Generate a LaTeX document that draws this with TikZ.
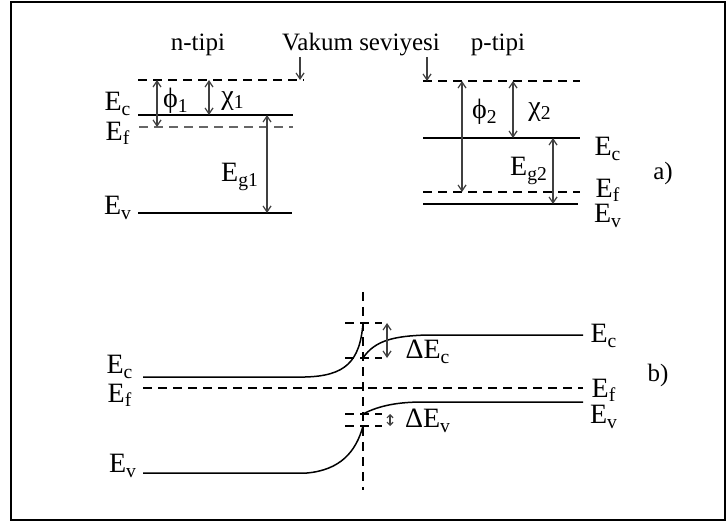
\documentclass[tikz,border=0pt]{standalone}
\usepackage{fontspec}
\setmainfont{Liberation Serif}
\usetikzlibrary{arrows.meta}
\begin{document}
\begin{tikzpicture}[x=0.5pt,y=-0.5pt,
  lvl/.style={line width=0.75pt},
  dlvl/.style={line width=0.6pt, dash pattern=on 4.5pt off 3pt},
  darr/.style={line width=0.6pt, draw=black!75, {Straight Barb[length=3pt,width=4pt]}-{Straight Barb[length=3pt,width=4pt]}},
  sarr/.style={line width=0.6pt, draw=black!75, -{Straight Barb[length=3pt,width=4pt]}},
  tarr/.style={line width=0.6pt, draw=black!75, {Straight Barb[length=1.5pt,width=3pt]}-{Straight Barb[length=1.5pt,width=3pt]}},
  lab/.style={font=\fontsize{12.5}{14}\selectfont, inner sep=0pt},
  elab/.style={font=\fontsize{14}{16}\selectfont, inner sep=0pt},
]
\useasboundingbox (0,0) rectangle (727,523);
\draw[line width=1.2pt] (11,2) rectangle (725,520);

% ---------- part a) : titles ----------
\node[lab] (ntip) at (198,45) {n-tipi};
\node[lab] (vak) at (361,45) {Vakum seviyesi};
\node[lab] (ptip) at (498,45) {p-tipi};

% n-type levels
\coordinate (nvacL) at (138,80);  \coordinate (nvacR) at (304,80);
\coordinate (necL) at (138,115);  \coordinate (necR) at (293,115);
\coordinate (nefL) at (139,127);  \coordinate (nefR) at (293,127);
\coordinate (nevL) at (138,213);  \coordinate (nevR) at (292,213);
\draw[dlvl] (nvacL) -- (nvacR);
\draw[lvl] (necL) -- (necR);
\draw[dlvl, draw=black!60] (nefL) -- (nefR);
\draw[lvl] (nevL) -- (nevR);

% p-type levels
\coordinate (pvacL) at (423,81);  \coordinate (pvacR) at (580,81);
\coordinate (pecL) at (423,138);  \coordinate (pecR) at (580,138);
\coordinate (pefL) at (423,192);  \coordinate (pefR) at (580,192);
\coordinate (pevL) at (423,204);  \coordinate (pevR) at (578,204);
\draw[dlvl] (pvacL) -- (pvacR);
\draw[lvl] (pecL) -- (pecR);
\draw[dlvl] (pefL) -- (pefR);
\draw[lvl] (pevL) -- (pevR);

% vacuum pointers
\coordinate (va1) at (300,57); \coordinate (vb1) at (300,80);
\coordinate (va2) at (427,57); \coordinate (vb2) at (427,81);
\draw[sarr] (va1) -- (vb1);
\draw[sarr] (va2) -- (vb2);

% n-type arrows
\draw[darr] (157,80) -- (157,127);
\draw[darr] (209,80) -- (209,115);
\draw[darr] (267,115) -- (267,213);
\node[elab] (phi1) at (176,101) {ϕ\textsubscript{1}};
\node[elab] (chi1) at (233,101) {χ\textsubscript{1}};
\node[elab] (eg1) at (240,177) {E\textsubscript{g1}};

% p-type arrows
\draw[darr] (462,81) -- (462,192);
\draw[darr] (513,81) -- (513,138);
\draw[darr] (553,138) -- (553,204);
\node[elab] (phi2) at (485,112) {ϕ\textsubscript{2}};
\node[elab] (chi2) at (540,112) {χ\textsubscript{2}};
\node[elab] (eg2) at (529,171) {E\textsubscript{g2}};

% level labels a)
\node[elab] (lnec) at (118,104) {E\textsubscript{c}};
\node[elab] (lnef) at (118,133) {E\textsubscript{f}};
\node[elab] (lnev) at (118,208) {E\textsubscript{v}};
\node[elab] (lpec) at (608,149) {E\textsubscript{c}};
\node[elab] (lpef) at (608,190) {E\textsubscript{f}};
\node[elab] (lpev) at (608,216) {E\textsubscript{v}};
\node[lab] (la) at (663,173) {a)};

% ---------- part b) ----------
\coordinate (jT) at (363,292); \coordinate (jB) at (363,490);
\draw[dlvl] (jT) -- (jB);

% conduction band
\coordinate (cL) at (143,377); \coordinate (cM) at (305,377); \coordinate (cJ1) at (363,323);
\coordinate (cJ2) at (363,358); \coordinate (cN) at (427,335); \coordinate (cR) at (583,335);
\draw[lvl] (cL) -- (cM) .. controls (345,376) and (360,362) .. (cJ1);
\draw[lvl] (cJ2) .. controls (375,340) and (395,336) .. (cN) -- (cR);

% Fermi level
\coordinate (fL) at (143,388); \coordinate (fR) at (583,388);
\draw[dlvl] (fL) -- (fR);

% valence band
\coordinate (vL) at (143,473); \coordinate (vM) at (307,473); \coordinate (vJ1) at (363,426);
\coordinate (vJ2) at (363,414); \coordinate (vN) at (423,402); \coordinate (vR) at (583,402);
\draw[lvl] (vL) -- (vM) .. controls (340,470) and (356,452) .. (vJ1);
\draw[lvl] (vJ2) .. controls (380,405) and (400,402) .. (vN) -- (vR);

% offset stubs
\draw[dlvl] (345,323) -- (382,323);
\draw[dlvl] (345,358) -- (382,358);
\draw[dlvl] (345,414) -- (382,414);
\draw[dlvl] (345,426) -- (382,426);
\draw[darr] (387,323) -- (387,358);
\draw[tarr] (390,414) -- (390,426);
\node[elab] (dec) at (428,352) {ΔE\textsubscript{c}};
\node[elab] (dev) at (428,421) {ΔE\textsubscript{v}};

% level labels b)
\node[elab] (lbec) at (120,367) {E\textsubscript{c}};
\node[elab] (lbef) at (120,395) {E\textsubscript{f}};
\node[elab] (lbev) at (123,466) {E\textsubscript{v}};
\node[elab] (rbec) at (604,336) {E\textsubscript{c}};
\node[elab] (rbef) at (604,390) {E\textsubscript{f}};
\node[elab] (rbev) at (604,417) {E\textsubscript{v}};
\node[lab] (lb) at (658,375) {b)};
\end{tikzpicture}
\end{document}
